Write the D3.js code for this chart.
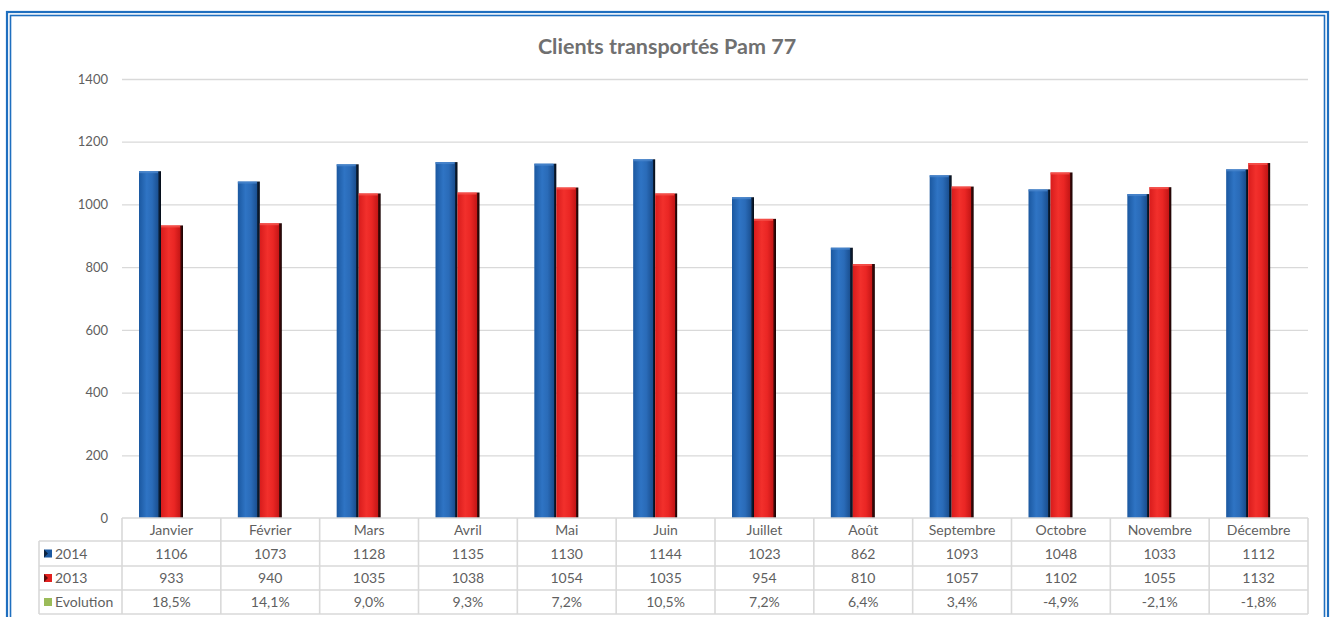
<!DOCTYPE html>
<html><head><meta charset="utf-8">
<script src="https://cdn.jsdelivr.net/npm/d3@7"></script>
<style>
html,body{margin:0;padding:0;background:#fff;}
svg{display:block;}
text{font-family:Lato,"Open Sans",sans-serif;}
</style></head>
<body>
<svg id="chart" width="1330" height="617"></svg>
<script>
const months = ["Janvier","Février","Mars","Avril","Mai","Juin","Juillet","Août","Septembre","Octobre","Novembre","Décembre"];
const series2014 = [1106,1073,1128,1135,1130,1144,1023,862,1093,1048,1033,1112];
const series2013 = [933,940,1035,1038,1054,1035,954,810,1057,1102,1055,1132];
const evolution = ["18,5%","14,1%","9,0%","9,3%","7,2%","10,5%","7,2%","6,4%","3,4%","-4,9%","-2,1%","-1,8%"];
const seriesNames = ["2014","2013","Evolution"];
const yTicks = [0,200,400,600,800,1000,1200,1400];
const title = "Clients transportés Pam 77";

const svg = d3.select("#chart");
const W = 1330, H = 617;
const grey = "#5f5f5f", lineCol = "#d9d9d9";

// border (double blue frame)
svg.append("rect").attr("x",7).attr("y",12).attr("width",1321).attr("height",H).attr("fill","none").attr("stroke","#1f6fbf").attr("stroke-width",2.2);
svg.append("rect").attr("x",10.5).attr("y",15.5).attr("width",1314).attr("height",H).attr("fill","none").attr("stroke","#1f6fbf").attr("stroke-width",1.6);

const plotL = 122, plotR = 1308, plotT = 79, plotB = 518;
const y = d3.scaleLinear().domain([0,1400]).range([plotB, plotT]);
const x = d3.scaleBand().domain(months).range([plotL, plotR]).paddingInner(0).paddingOuter(0);
const x1 = d3.scaleBand().domain(["2014","2013"]).range([17, 61]).padding(0);

// title
svg.append("text").attr("x",667).attr("y",54).attr("text-anchor","middle")
  .attr("font-size",21.5).attr("font-weight","bold").attr("fill","#707070").text(title);

// gridlines
svg.append("g").selectAll("line").data(yTicks.filter(d=>d>0)).join("line")
  .attr("x1",plotL).attr("x2",plotR).attr("y1",d=>y(d)+0.5).attr("y2",d=>y(d)+0.5)
  .attr("stroke",lineCol).attr("stroke-width",1.3);

// y axis labels via d3 axis
const yAxis = d3.axisLeft(y).tickValues(yTicks).tickSize(0).tickPadding(0).tickFormat(d3.format("d"));
const ga = svg.append("g").attr("transform",`translate(108,0)`).call(yAxis);
ga.select(".domain").remove();
ga.selectAll("text").attr("font-size",13).attr("fill",grey).attr("font-family","Lato,'Open Sans',sans-serif");

// gradients
const defs = svg.append("defs");
function grad(id, stops){
  const g = defs.append("linearGradient").attr("id",id).attr("x1","0").attr("x2","1").attr("y1","0").attr("y2","0");
  stops.forEach(s=>g.append("stop").attr("offset",s[0]).attr("stop-color",s[1]));
}
grad("gBlue",[[0,"#1b58a0"],[0.35,"#2f74c4"],[0.6,"#2a6bb8"],[0.88,"#1a4f90"],[0.89,"#0d2440"],[1,"#050a14"]]);
grad("gRed",[[0,"#d81c1c"],[0.35,"#f2302c"],[0.6,"#ea2624"],[0.88,"#c41616"],[0.89,"#4a0a0a"],[1,"#150303"]]);

const data = months.map((m,i)=>({m, v:[{k:"2014",val:series2014[i]},{k:"2013",val:series2013[i]}]}));
const groups = svg.append("g").selectAll("g").data(data).join("g")
  .attr("transform",d=>`translate(${x(d.m)},0)`);
groups.selectAll("rect.bar").data(d=>d.v).join("rect").attr("class","bar")
  .attr("x",d=>x1(d.k)).attr("width",x1.bandwidth())
  .attr("y",d=>y(d.val)).attr("height",d=>plotB - y(d.val))
  .attr("fill",d=>d.k==="2014"?"url(#gBlue)":"url(#gRed)");
// top caps
groups.selectAll("rect.cap").data(d=>d.v).join("rect").attr("class","cap")
  .attr("x",d=>x1(d.k)).attr("width",x1.bandwidth()-3)
  .attr("y",d=>y(d.val)).attr("height",2)
  .attr("fill",d=>d.k==="2014"?"#4a86cc":"#f5554f").attr("opacity",0.8);

// data table
const rowY = [518, 541, 566, 590, 614];
const tableL = 39;
const tg = svg.append("g");
tg.append("line").attr("x1",plotL).attr("x2",plotR).attr("y1",rowY[0]).attr("y2",rowY[0]).attr("stroke",lineCol).attr("stroke-width",1.6);
rowY.slice(1).forEach(yy=>{
  tg.append("line").attr("x1",tableL).attr("x2",plotR).attr("y1",yy).attr("y2",yy).attr("stroke",lineCol).attr("stroke-width",1.6);
});
tg.append("line").attr("x1",tableL).attr("x2",tableL).attr("y1",rowY[1]).attr("y2",rowY[4]).attr("stroke",lineCol).attr("stroke-width",1.6);
months.forEach(m=>{
  tg.append("line").attr("x1",x(m)).attr("x2",x(m)).attr("y1",rowY[0]).attr("y2",rowY[4]).attr("stroke",lineCol).attr("stroke-width",1.6);
});
tg.append("line").attr("x1",plotR).attr("x2",plotR).attr("y1",rowY[0]).attr("y2",rowY[4]).attr("stroke",lineCol).attr("stroke-width",1.6);

tg.selectAll("text.mh").data(months).join("text").attr("class","mh")
  .attr("x",d=>x(d)+x.bandwidth()/2).attr("y",535).attr("text-anchor","middle")
  .attr("font-size",14).attr("fill",grey).text(d=>d);
const rows = [series2014, series2013, evolution];
rows.forEach((r,ri)=>{
  const cy = (rowY[ri+1]+rowY[ri+2])/2;
  tg.selectAll(`text.r${ri}`).data(r).join("text").attr("class",`r${ri}`)
    .attr("x",(d,i)=>x(months[i])+x.bandwidth()/2).attr("y",cy+5).attr("text-anchor","middle")
    .attr("font-size",14).attr("fill",grey).text(d=>d);
});
const keyCol = ["#1b58a0","#e2201e","#9bbb59"];
const keyDark = ["#0d2440","#5a0a0a",null];
seriesNames.forEach((s,i)=>{
  const cy = (rowY[i+1]+rowY[i+2])/2;
  tg.append("rect").attr("x",44).attr("y",cy-4).attr("width",8).attr("height",8).attr("fill",keyCol[i]);
  if(keyDark[i]) tg.append("path").attr("d",`M44,${cy-4}L48,${cy}L44,${cy+4}Z`).attr("fill",keyDark[i]);
  tg.append("text").attr("x",55).attr("y",cy+5).attr("font-size",14).attr("fill",grey).text(s);
});
</script>
</body></html>
